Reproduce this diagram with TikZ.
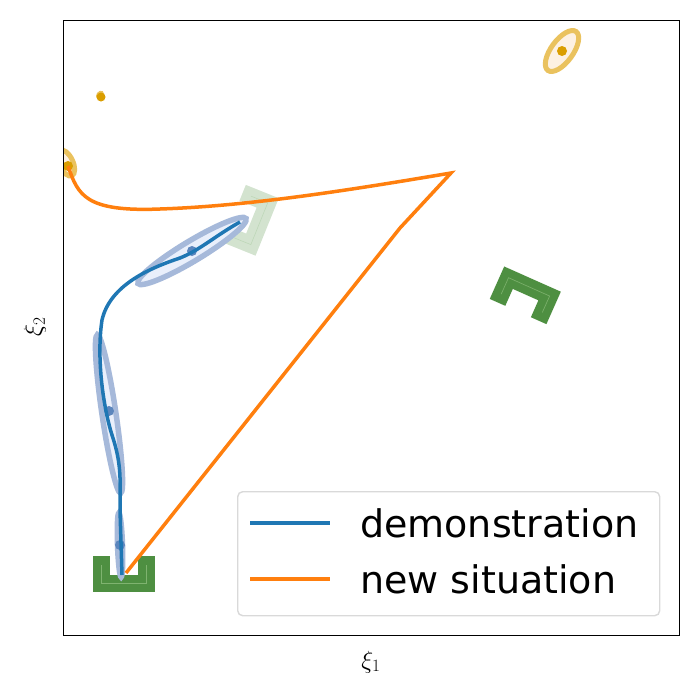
\documentclass[tikz,border=0pt]{standalone}
\usepackage{fontspec}
\setmainfont{DejaVu Sans}
\begin{document}
\begin{tikzpicture}[x=1pt,y=-1pt,
  traj/.style={line width=3.5pt},
  gauss/.style={draw=gstroke,fill=gfill,line width=5.5pt},
  ogauss/.style={draw=ostroke,fill=ofill,line width=5pt},
  brk/.style={draw=gr,line width=17pt},
  brkin/.style={draw=grl,line width=0.6pt}]
\definecolor{tblue}{HTML}{1F77B4}
\definecolor{torange}{HTML}{FF7F0E}
\definecolor{gr}{HTML}{4E8F41}
\definecolor{grl}{HTML}{7FB36F}
\definecolor{gstroke}{HTML}{A6B9DA}
\definecolor{gfill}{HTML}{E9EFFB}
\definecolor{ostroke}{HTML}{EAC25E}
\definecolor{ofill}{HTML}{FDF1E2}
\definecolor{odot}{HTML}{DA9E00}
\definecolor{bdot}{HTML}{5C86BD}
\useasboundingbox (0,0) rectangle (699,699);
\newcommand{\mybracket}[4]{%
 \begin{scope}[shift={(#1,#2)},rotate=#3,opacity=#4]
  \draw[brk] (-22.5,-17)--(-22.5,10)--(22.5,10)--(22.5,-17);
  \draw[brkin] (-22.5,-8)--(-22.5,10)--(22.5,10)--(22.5,-8);
 \end{scope}}
% brackets
\mybracket{124}{573}{0}{1}
\mybracket{525}{296}{156}{1}
\mybracket{250}{220}{68}{0.25}
% blue gaussians
\draw[gauss] (192,251) ellipse [x radius=63,y radius=10,rotate=31];
\draw[gauss] (109,414) ellipse [x radius=80,y radius=7,rotate=-81.6];
\draw[gauss] (120,545) ellipse [x radius=32,y radius=2.5,rotate=-88];
\fill[bdot] (192,251) circle (5);
\fill[bdot] (109,411) circle (5);
\fill[bdot] (120,545) circle (5);
% orange gaussians
\draw[ogauss] (562,51) ellipse [x radius=24,y radius=11,rotate=54];
\fill[odot] (562,51) circle (5);
\draw[ogauss,line width=3pt] (100,95) ellipse [x radius=3,y radius=2,rotate=54];
\fill[odot] (101,97) circle (4.5);
\begin{scope}
\clip (63,20) rectangle (679,635);
\draw[ogauss] (66,163) ellipse [x radius=14,y radius=7,rotate=-65];
\fill[odot] (68,166) circle (5);
\end{scope}
% trajectories
\coordinate (bs) at (240,222);
\coordinate (be) at (122,575);
\draw[traj,tblue] (bs) .. controls (215,236) and (200,250) .. (180,258)
  .. controls (150,268) and (110,285) .. (102,320)
  .. controls (96,360) and (104,410) .. (112,435)
  .. controls (122,465) and (120,480) .. (120,510)
  -- (be);
\coordinate (os) at (68,166);
\coordinate (ot) at (451,173);
\coordinate (oe) at (126,573);
\draw[traj,torange] (os) .. controls (78,195) and (85,212) .. (160,209)
  .. controls (250,206) and (350,190) .. (ot)
  -- (400,228) -- (oe);
% axes
\node (ax) [draw,line width=1.4pt,minimum width=616pt,minimum height=615pt,anchor=north west,inner sep=0pt] at (63,20) {};
\node (xl) at (371,662) {\fontsize{27}{30}\selectfont$\xi_1$};
\node (yl) [rotate=90] at (35,327) {\fontsize{27}{30}\selectfont$\xi_2$};
% legend
\node (lg) [draw=black!15,fill=white,fill opacity=0.8,draw opacity=1,rounded corners=5pt,line width=1.4pt,minimum width=422pt,minimum height=124pt,anchor=north west] at (237,491) {};
\coordinate (l1a) at (250,523); \coordinate (l1b) at (330,523);
\coordinate (l2a) at (250,579); \coordinate (l2b) at (330,579);
\draw[traj,tblue] (l1a)--(l1b);
\draw[traj,torange] (l2a)--(l2b);
\node (t1) [anchor=west,inner sep=0pt] at (360,523) {\fontsize{38}{40}\selectfont demonstration};
\node (t2) [anchor=west,inner sep=0pt] at (360,579) {\fontsize{38}{40}\selectfont new situation};
\end{tikzpicture}
\end{document}
